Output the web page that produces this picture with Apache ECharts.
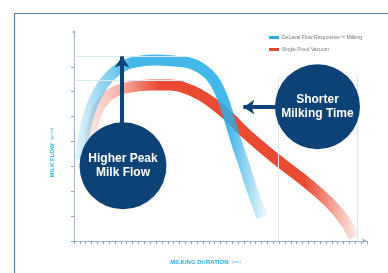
<!DOCTYPE html>
<html>
<head>
<meta charset="utf-8">
<script src="https://cdn.jsdelivr.net/npm/echarts@6/dist/echarts.min.js"></script>
<style>
  html, body { margin: 0; padding: 0; background: #fff; }
  #chart { width: 388px; height: 273px; }
</style>
</head>
<body>
<div id="chart"></div>
<script>
// milking duration (x) / milk flow (y)
const blueX = [1.0, 1.7, 2.7, 4.1, 5.8, 7.9, 10.4, 13.8, 17.2, 19.8, 21.8, 23.6, 24.9, 25.9, 26.8, 27.8, 29.0, 30.2, 31.2, 32.1];
const blueY = [3.27, 4.23, 5.19, 5.96, 6.54, 6.96, 7.19, 7.27, 7.23, 7.15, 6.92, 6.54, 6.00, 5.38, 4.69, 3.92, 3.08, 2.19, 1.54, 0.96];
const redX = [2.7, 3.6, 5.0, 7.0, 9.6, 13.0, 16.4, 18.9, 21.5, 24.1, 26.6, 29.2, 34.3, 40.3, 45.1, 47.8];
const redY = [4.04, 5.00, 5.62, 6.00, 6.19, 6.27, 6.27, 6.15, 5.88, 5.46, 4.96, 4.35, 3.33, 2.23, 1.15, 0.15];
const seriesNames = ['DeLaval Flow-Responsive™ Milking', 'Single Fixed Vacuum'];

// peak guide lines and end-of-milking guides
const peakLevels = [7.42, 6.46];
const peakGuideEnd = 19.3;
const endGuides = [34.8, 48.3];
const endGuideTop = 6.65;

// callouts
const callouts = [
  { name: 'Higher Peak\nMilk Flow', x: 8.36, y: 3.02, size: 87 },
  { name: 'Shorter\nMilking Time', x: 41.55, y: 5.40, size: 85 }
];
const peakArrow = [[8.2, 4.6], [8.2, 7.42]];
const timeArrow = [[35.2, 5.38], [28.9, 5.38]];

const yTicks = [0, 1, 2, 3, 4, 5, 6, 7];

const BLUE = '#2aaee6';
const RED = '#ea4a32';
const NAVY = '#0d4277';

const toPairs = (xs, ys) => xs.map((x, i) => [x, ys[i]]);

const myChart = echarts.init(document.getElementById('chart'));

const option = {
  animation: false,
  grid: { left: 74, right: 21, top: 32, bottom: 23 },
  legend: {
    orient: 'vertical',
    left: 264,
    top: 30,
    itemWidth: 10,
    itemHeight: 3,
    itemGap: 7,
    icon: 'rect',
    textStyle: { fontSize: 5, color: '#777', padding: [0, 0, 0, -2] },
    data: [
      { name: seriesNames[0], itemStyle: { color: BLUE } },
      { name: seriesNames[1], itemStyle: { color: RED } }
    ]
  },
  xAxis: {
    type: 'value',
    min: 0,
    max: 50,
    interval: 1,
    name: '{b|MILKING DURATION} {s|(sec)}',
    nameLocation: 'middle',
    nameGap: 15,
    nameTextStyle: {
      padding: [0, 30, 0, 0],
      rich: {
        b: { fontSize: 6, fontWeight: 'bold', color: '#2aaee6', fontFamily: 'Liberation Sans' },
        s: { fontSize: 4, color: '#2aaee6', fontFamily: 'Liberation Sans' }
      }
    },
    axisLine: { lineStyle: { color: '#9db8d2', width: 1 }, symbol: ['none', 'arrow'], symbolSize: [4, 5] },
    axisTick: { show: true, length: 3, lineStyle: { color: '#8aa6c4' } },
    axisLabel: { show: false },
    splitLine: { show: false }
  },
  yAxis: {
    type: 'value',
    min: 0,
    max: 8.4,
    interval: 1,
    name: '{b|MILK FLOW} {s|(g/min)}',
    nameLocation: 'middle',
    nameRotate: 90,
    nameGap: 16,
    nameTextStyle: {
      padding: [0, 32, 0, 0],
      rich: {
        b: { fontSize: 6, fontWeight: 'bold', color: '#2aaee6', fontFamily: 'Liberation Sans' },
        s: { fontSize: 4, color: '#2aaee6', fontFamily: 'Liberation Sans' }
      }
    },
    axisLine: { show: true, lineStyle: { color: '#9db8d2', width: 1 }, symbol: ['none', 'circle'], symbolSize: [3, 3] },
    axisTick: { show: true, length: 3, customValues: yTicks, lineStyle: { color: '#8aa6c4' } },
    axisLabel: { show: false },
    splitLine: { show: false }
  },
  graphic: [
    {
      type: 'rect',
      shape: { x: 14.5, y: 13.5, width: 420, height: 300 },
      style: { fill: 'none', stroke: '#5a80ab', lineWidth: 1.2 },
      silent: true
    }
  ],
  series: [
    {
      name: seriesNames[1],
      type: 'line',
      smooth: true,
      symbol: 'none',
      z: 2,
      color: RED,
      data: toPairs(redX, redY),
      lineStyle: {
        width: 11,
        cap: 'butt',
        color: new echarts.graphic.LinearGradient(0, 0, 1, 0, [
          { offset: 0, color: 'rgba(234,74,50,0.08)' },
          { offset: 0.12, color: 'rgba(234,74,50,0.4)' },
          { offset: 0.27, color: 'rgba(234,74,50,1)' },
          { offset: 0.8, color: 'rgba(234,74,50,1)' },
          { offset: 1, color: 'rgba(234,74,50,0.05)' }
        ])
      },
      markLine: {
        silent: true,
        symbol: 'none',
        label: { show: false },
        lineStyle: { color: '#d6ebf6', width: 1, type: 'solid' },
        data: peakLevels.map(v => [{ coord: [0, v] }, { coord: [peakGuideEnd, v] }])
          .concat(endGuides.map(v => [{ coord: [v, 0] }, { coord: [v, endGuideTop] }]))
      }
    },
    {
      name: seriesNames[0],
      type: 'line',
      smooth: true,
      symbol: 'none',
      z: 3,
      color: BLUE,
      data: toPairs(blueX, blueY),
      lineStyle: {
        width: 11,
        cap: 'butt',
        opacity: 0.88,
        color: new echarts.graphic.LinearGradient(0, 0, 1, 0, [
          { offset: 0, color: 'rgba(42,174,230,0.12)' },
          { offset: 0.12, color: 'rgba(42,174,230,0.5)' },
          { offset: 0.3, color: 'rgba(42,174,230,1)' },
          { offset: 0.8, color: 'rgba(42,174,230,1)' },
          { offset: 1, color: 'rgba(42,174,230,0.05)' }
        ])
      }
    },
    {
      name: 'callouts',
      type: 'scatter',
      z: 5,
      silent: true,
      data: callouts.map(c => ({
        name: c.name,
        value: [c.x, c.y],
        symbolSize: c.size
      })),
      itemStyle: { color: NAVY, opacity: 1 },
      label: {
        show: true,
        position: 'inside',
        formatter: p => p.name,
        color: '#fff',
        fontSize: 12,
        fontWeight: 'bold',
        lineHeight: 14,
        fontFamily: 'Liberation Sans'
      }
    },
    {
      name: 'arrows',
      type: 'lines',
      coordinateSystem: 'cartesian2d',
      z: 6,
      silent: true,
      symbol: ['none', 'arrow'],
      symbolSize: 11,
      lineStyle: { color: NAVY, width: 4, opacity: 1 },
      data: [{ coords: peakArrow }, { coords: timeArrow }]
    }
  ]
};

myChart.setOption(option);
</script>
</body>
</html>
